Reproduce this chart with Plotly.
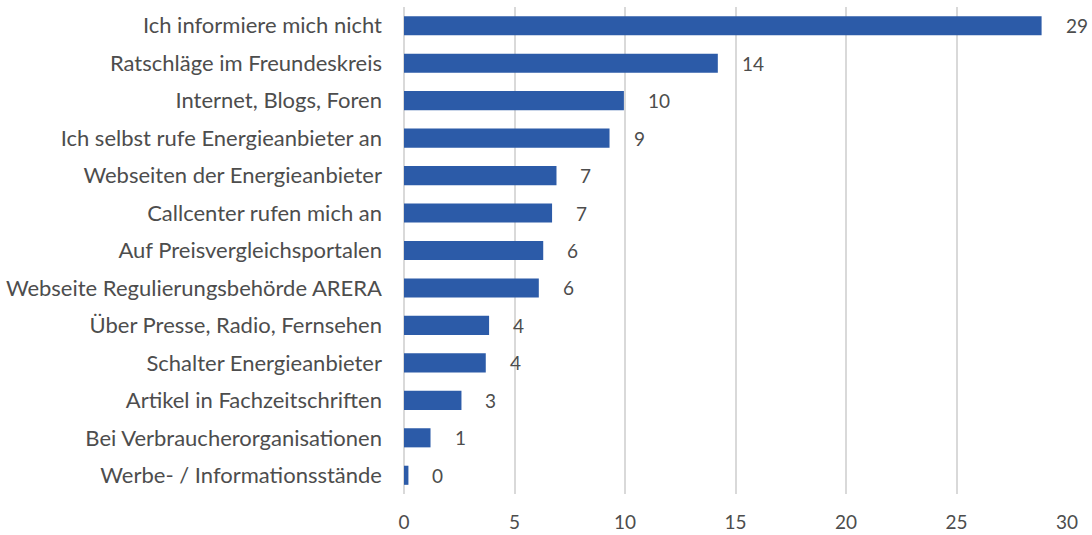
import plotly.graph_objects as go

categories = [
    "Ich informiere mich nicht",
    "Ratschläge im Freundeskreis",
    "Internet, Blogs, Foren",
    "Ich selbst rufe Energieanbieter an",
    "Webseiten der Energieanbieter",
    "Callcenter rufen mich an",
    "Auf Preisvergleichsportalen",
    "Webseite Regulierungsbehörde ARERA",
    "Über Presse, Radio, Fernsehen",
    "Schalter Energieanbieter",
    "Artikel in Fachzeitschriften",
    "Bei Verbraucherorganisationen",
    "Werbe- / Informationsstände",
]
values = [28.85, 14.2, 9.95, 9.3, 6.9, 6.7, 6.3, 6.1, 3.85, 3.7, 2.6, 1.2, 0.2]
labels = [29, 14, 10, 9, 7, 7, 6, 6, 4, 4, 3, 1, 0]
x_ticks = [0, 5, 10, 15, 20, 25, 30]

FONT = "Lato"
TXT = "#4d4d4d"
W = 400

fig = go.Figure(go.Bar(
    y=categories, x=values, orientation="h",
    marker=dict(color="#2C5BA8", line=dict(width=0)),
    width=0.51,
    hoverinfo="skip",
))

for c, v, l in zip(categories, values, labels):
    fig.add_annotation(x=v, y=c, text=str(l), showarrow=False,
                       xanchor="left", xshift=22,
                       font=dict(family=FONT, size=19, color=TXT, weight=W))

fig.update_layout(
    width=1092, height=535,
    margin=dict(l=404, r=25, t=7, b=41, autoexpand=False),
    paper_bgcolor="white", plot_bgcolor="white",
    showlegend=False,
    font=dict(family=FONT, color=TXT, weight=W),
)
fig.update_xaxes(range=[0, 30], tickvals=x_ticks, showgrid=True,
                 gridcolor="#D9D9D9", gridwidth=2, zeroline=True,
                 zerolinecolor="#D9D9D9", zerolinewidth=2,
                 ticklabelstandoff=15, automargin=False,
                 tickfont=dict(family=FONT, size=19, color=TXT, weight=W),
                 fixedrange=True)
fig.update_yaxes(autorange="reversed", ticklabelstandoff=21, automargin=False,
                 tickfont=dict(family=FONT, size=22, color=TXT, weight=W),
                 showline=False, fixedrange=True)

fig.write_html("out.html", config={"displayModeBar": False},
               post_script="document.body.style.margin='0px';")
